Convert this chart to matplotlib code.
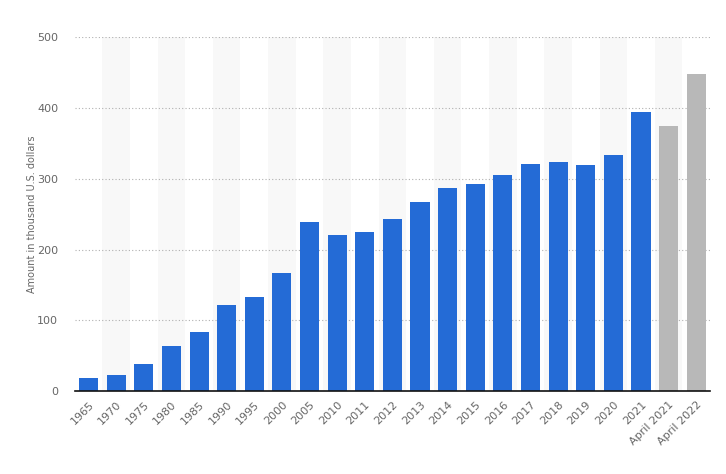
import matplotlib.pyplot as plt
import numpy as np

categories = ['1965', '1970', '1975', '1980', '1985', '1990', '1995', '2000', '2005',
              '2010', '2011', '2012', '2013', '2014', '2015', '2016', '2017', '2018',
              '2019', '2020', '2021', 'April 2021', 'April 2022']
values = [18.4, 22.6, 38.2, 63.6, 83.4, 121.6, 132.9, 166.8, 238.9, 220.5, 224.8,
          243.2, 267.2, 287.0, 292.6, 305.4, 320.9, 323.8, 319.5, 333.6, 394.4,
          374.6, 448.2]
# last two bars are grey in the original
highlight = [False] * 21 + [True, True]

blue = '#246bd6'
grey = '#b8b8b8'

fig = plt.figure(figsize=(7.26, 4.74), dpi=100)
ax = fig.add_axes([0.103, 0.175, 0.875, 0.746])

x = np.arange(len(categories))
colors = [grey if h else blue for h in highlight]

# alternating column shading
for i in x:
    if i % 2 == 1:
        ax.axvspan(i - 0.5, i + 0.5, color='#f8f8f8', zorder=0, lw=0)

ax.bar(x, values, width=0.69, color=colors, zorder=3)

ax.set_xlim(-0.5, len(categories) - 0.5)
ax.set_ylim(0, 500)
ax.set_yticks(range(0, 501, 100))
ax.yaxis.grid(True, linestyle=(0, (1, 2)), color='#b0b0b0', lw=0.8, zorder=1)

ax.set_xticks(x)
ax.set_xticklabels(categories, rotation=45, ha='right', rotation_mode='anchor',
                   fontsize=8, color='#666666')
ax.tick_params(axis='x', length=0, pad=6)
ax.tick_params(axis='y', length=0, pad=12, labelsize=8, labelcolor='#666666')

for s in ['top', 'right', 'left']:
    ax.spines[s].set_visible(False)
ax.spines['bottom'].set_color('#111111')
ax.spines['bottom'].set_linewidth(1.2)
ax.spines['bottom'].set_zorder(4)

ax.set_ylabel('Amount in thousand U.S. dollars', fontsize=7, color='#666666', labelpad=0)

fig.savefig('out.png', dpi=100)
